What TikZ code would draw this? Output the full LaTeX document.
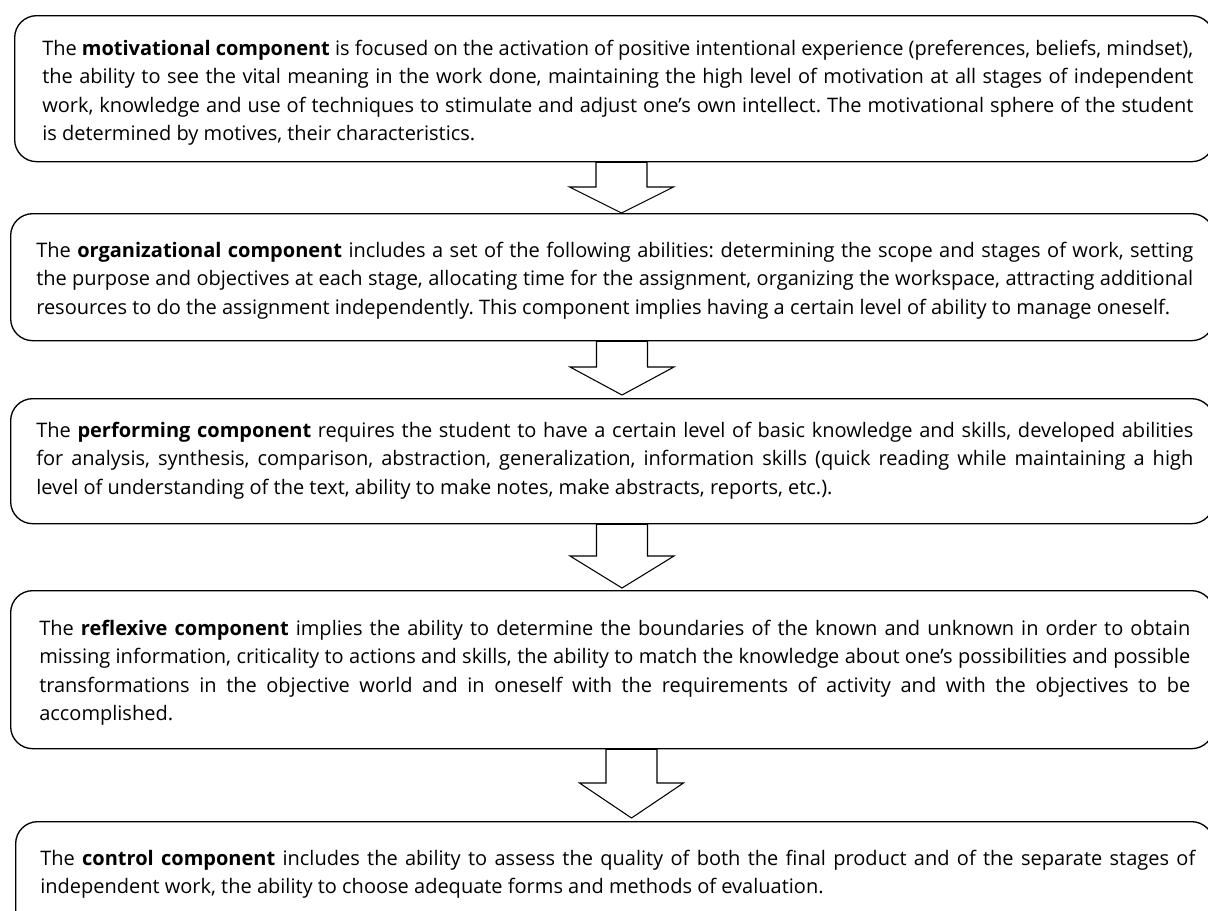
\documentclass[tikz,border=0pt]{standalone}
\usepackage{fontspec}
\setmainfont{Open Sans}
\usetikzlibrary{calc}
\frenchspacing
\newcommand{\blockarrow}[5]{%
  \draw[blockarrow] ($(#1.south -| #3)+(-25.5,0)$) -- ($(#1.south -| #3)+(25.5,0)$)
    -- ($(#2.north -| #3)+(25.5,-#4-#5)$) -- ($(#2.north -| #3)+(52,-#4-#5)$)
    -- ($(#2.north -| #3)+(0,-#5)$)
    -- ($(#2.north -| #3)+(-52,-#4-#5)$) -- ($(#2.north -| #3)+(-25.5,-#4-#5)$) -- cycle;}
\begin{document}
\frenchspacing
\begin{tikzpicture}[x=0.75pt,y=-0.75pt,
  box/.style={draw=black, line width=1pt, rounded corners=16.5pt, anchor=north west, inner sep=0pt},
  txt/.style={anchor=base west, inner sep=0pt, align=justify, font=\fontsize{15}{21.4}\selectfont\frenchspacing},
  blockarrow/.style={draw=black, line width=0.8pt, fill=white, line join=miter}]
\useasboundingbox (0,0) rectangle (1208,911);

\node[box, minimum width=899.25pt, minimum height=109.5pt] (b1) at (14,15) {};
\node[box, minimum width=902.25pt, minimum height=95.25pt] (b2) at (10,213) {};
\node[box, minimum width=902.25pt, minimum height=93.75pt] (b3) at (10,398) {};
\node[box, minimum width=902.25pt, minimum height=118.5pt] (b4) at (10,590) {};
\node[box, minimum width=898.5pt, minimum height=89.25pt] (b5) at (15,821) {};

\node[txt, text width=863.25pt] (t1) at (42,55) {The \textbf{motivational component} is focused on the activation of positive intentional experience (preferences, beliefs, mindset),\linebreak the ability to see the vital meaning in the work done, maintaining the high level of motivation at all stages of independent\linebreak work, knowledge and use of techniques to stimulate and adjust one’s own intellect. The motivational sphere of the student\linebreak is determined by motives, their characteristics.};

\node[txt, text width=867.75pt] (t2) at (36,257) {The \textbf{organizational component} includes a set of the following abilities: determining the scope and stages of work, setting\linebreak the purpose and objectives at each stage, allocating time for the assignment, organizing the workspace, attracting additional\linebreak resources to do the assignment independently. This component implies having a certain level of ability to manage oneself.};

\node[txt, text width=867.75pt] (t3) at (36,437) {The \textbf{performing component} requires the student to have a certain level of basic knowledge and skills, developed abilities\linebreak for analysis, synthesis, comparison, abstraction, generalization, information skills (quick reading while maintaining a high\linebreak level of understanding of the text, ability to make notes, make abstracts, reports, etc.).};

\node[txt, text width=863.25pt] (t4) at (39,635) {The \textbf{reflexive component} implies the ability to determine the boundaries of the known and unknown in order to obtain\linebreak missing information, criticality to actions and skills, the ability to match the knowledge about one’s possibilities and possible\linebreak transformations in the objective world and in oneself with the requirements of activity and with the objectives to be\linebreak accomplished.};

\node[txt, text width=866.25pt] (t5) at (40,865) {The \textbf{control component} includes the ability to assess the quality of both the final product and of the separate stages of\linebreak independent work, the ability to choose adequate forms and methods of evaluation.};

\coordinate (a1) at (621.5,0);
\coordinate (a2) at (622,0);
\coordinate (a3) at (622,0);
\coordinate (a4) at (631.5,0);

\blockarrow{b1}{b2}{a1}{26}{0}
\blockarrow{b2}{b3}{a2}{28}{3}
\blockarrow{b3}{b4}{a3}{32}{2}
\blockarrow{b4}{b5}{a4}{35}{3}
\end{tikzpicture}
\end{document}
